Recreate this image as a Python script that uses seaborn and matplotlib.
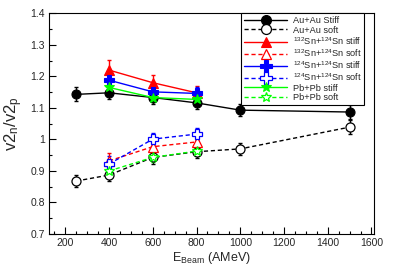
import matplotlib
matplotlib.use("Agg")
import matplotlib.pyplot as plt
import seaborn as sns
import pandas as pd
from matplotlib.ticker import MultipleLocator, FuncFormatter

sns.set_theme(style="white")
plt.rcParams['font.family'] = ['Liberation Sans', 'DejaVu Sans']
plt.rcParams['mathtext.default'] = 'regular'

# Data
energy_au = [250, 400, 600, 800, 1000, 1500]
au_stiff = [1.143, 1.148, 1.133, 1.116, 1.093, 1.087]
au_stiff_err = [0.022, 0.02, 0.02, 0.02, 0.02, 0.022]
au_soft = [0.868, 0.887, 0.943, 0.961, 0.970, 1.039]
au_soft_err = [0.02, 0.02, 0.02, 0.02, 0.02, 0.022]

energy_sn = [400, 600, 800]
sn132_stiff = [1.220, 1.180, 1.148]
sn132_stiff_err = [0.032, 0.025, 0.022]
sn132_soft = [0.932, 0.977, 0.992]
sn132_soft_err = [0.025, 0.02, 0.02]
sn124_stiff = [1.188, 1.151, 1.146]
sn124_stiff_err = [0.025, 0.02, 0.02]
sn124_soft = [0.922, 1.001, 1.017]
sn124_soft_err = [0.025, 0.02, 0.02]
pb_stiff = [1.165, 1.133, 1.127]
pb_stiff_err = [0.02, 0.015, 0.015]
pb_soft = [0.900, 0.943, 0.963]
pb_soft_err = [0.02, 0.015, 0.015]

labels = ["Au+Au Stiff", "Au+Au soft",
          r"$^{132}$Sn+$^{124}$Sn stiff", r"$^{132}$Sn+$^{124}$Sn soft",
          r"$^{124}$Sn+$^{124}$Sn stiff", r"$^{124}$Sn+$^{124}$Sn soft",
          "Pb+Pb stiff", "Pb+Pb soft"]

series = [
    (energy_au, au_stiff, au_stiff_err, "black", "o", True, "-", 6.5),
    (energy_au, au_soft, au_soft_err, "black", "o", False, (0, (3, 2)), 6.5),
    (energy_sn, sn132_stiff, sn132_stiff_err, "#ff0000", "^", True, "-", 6.5),
    (energy_sn, sn132_soft, sn132_soft_err, "#ff0000", "^", False, (0, (3, 2)), 6.5),
    (energy_sn, sn124_stiff, sn124_stiff_err, "#0000ff", "P", True, "-", 7.5),
    (energy_sn, sn124_soft, sn124_soft_err, "#0000ff", "P", False, (0, (3, 2)), 7.5),
    (energy_sn, pb_stiff, pb_stiff_err, "#00ff00", "*", True, "-", 7),
    (energy_sn, pb_soft, pb_soft_err, "#00ff00", "*", False, (0, (3, 2)), 7),
]

fig = plt.figure(figsize=(3.95, 2.68), dpi=100)
ax = fig.add_axes([0.124, 0.127, 0.823, 0.823])

for (xs, ys, es, col, mk, filled, ls, ms), lab in zip(series, labels):
    df = pd.DataFrame({"E": xs, "v": ys})
    ax.errorbar(xs, ys, yerr=es, fmt="none", ecolor=col, elinewidth=1.0, capsize=1.5, zorder=2)
    sns.lineplot(data=df, x="E", y="v", ax=ax, color=col, linestyle=ls, linewidth=1.0,
                 marker=mk, markersize=ms,
                 markerfacecolor=(col if filled else "white"),
                 markeredgecolor=col, markeredgewidth=(0.8 if filled else 0.9),
                 label=lab, legend=False, zorder=3)

ax.set_xlim(125, 1612)
ax.set_ylim(0.7, 1.4)
ax.xaxis.set_major_locator(MultipleLocator(200))
ax.xaxis.set_minor_locator(MultipleLocator(50))
ax.yaxis.set_major_locator(MultipleLocator(0.1))
ax.yaxis.set_minor_locator(MultipleLocator(0.05))
ax.yaxis.set_major_formatter(FuncFormatter(lambda v, p: f"{v:g}"))
ax.tick_params(which="major", direction="in", length=5, width=0.8, labelsize=7.5, color="black",
               bottom=True, left=True, pad=3)
ax.tick_params(which="minor", direction="in", length=2.5, width=0.8, bottom=True, left=True, color="black")
for s in ax.spines.values():
    s.set_color("black")
    s.set_linewidth(0.8)

ax.set_xlabel(r"E$_{Beam}$ (AMeV)", fontsize=9, labelpad=1)
ax.set_ylabel(r"v2$_{n}$/v2$_{p}$", fontsize=12, labelpad=4)

handles, labs = ax.get_legend_handles_labels()
leg = ax.legend(handles, labs, loc="upper right", bbox_to_anchor=(0.97, 1.0), fontsize=6.6,
                frameon=True, fancybox=False, edgecolor="black", framealpha=1,
                handlelength=4.7, handletextpad=0.6, labelspacing=0.05, borderpad=0.3,
                borderaxespad=0, markerscale=1.1)
leg.get_frame().set_linewidth(0.8)

fig.savefig("out.png", dpi=100)
